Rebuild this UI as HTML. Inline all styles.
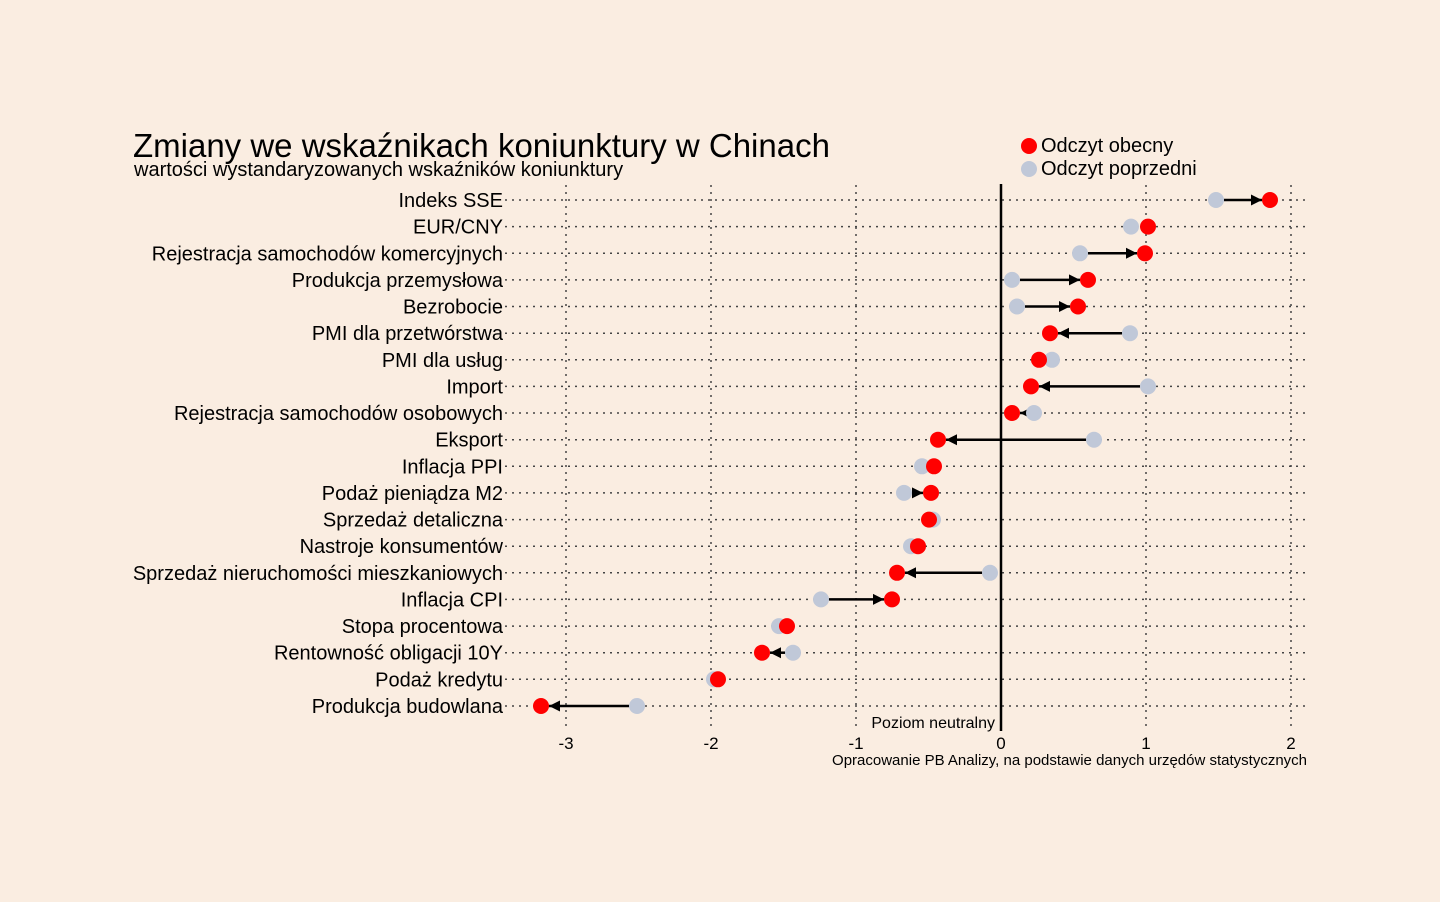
<!DOCTYPE html>
<html><head><meta charset="utf-8"><style>
body{margin:0;background:#faede1;}
svg{display:block;font-family:"Liberation Sans",sans-serif;}
</style></head><body>
<svg width="1440" height="902" viewBox="0 0 1440 902" xmlns="http://www.w3.org/2000/svg">
<defs><marker id="a" markerUnits="userSpaceOnUse" markerWidth="14" markerHeight="14" refX="11" refY="7" orient="auto"><path d="M0,1.5 L11,7 L0,12.5 Z" fill="#000"/></marker></defs>
<rect width="1440" height="902" fill="#faede1"/>
<text x="133" y="157" font-size="33">Zmiany we wskaźnikach koniunktury w Chinach</text>
<text x="134" y="176" font-size="20">wartości wystandaryzowanych wskaźników koniunktury</text>
<circle cx="1029" cy="146" r="8" fill="#ff0000"/><text x="1041" y="152" font-size="20">Odczyt obecny</text>
<circle cx="1029" cy="169" r="8" fill="#c0c8d8"/><text x="1041" y="175" font-size="20">Odczyt poprzedni</text>
<g stroke="#444" stroke-width="1.5" stroke-dasharray="2 5">
<line x1="566" y1="185" x2="566" y2="730"/><line x1="711" y1="185" x2="711" y2="730"/><line x1="856" y1="185" x2="856" y2="730"/><line x1="1146" y1="185" x2="1146" y2="730"/><line x1="1291" y1="185" x2="1291" y2="730"/>
<line x1="505" y1="200" x2="1305" y2="200"/><line x1="505" y1="226.6" x2="1305" y2="226.6"/><line x1="505" y1="253.3" x2="1305" y2="253.3"/><line x1="505" y1="279.9" x2="1305" y2="279.9"/><line x1="505" y1="306.5" x2="1305" y2="306.5"/><line x1="505" y1="333.2" x2="1305" y2="333.2"/><line x1="505" y1="359.8" x2="1305" y2="359.8"/><line x1="505" y1="386.4" x2="1305" y2="386.4"/><line x1="505" y1="413" x2="1305" y2="413"/><line x1="505" y1="439.7" x2="1305" y2="439.7"/><line x1="505" y1="466.3" x2="1305" y2="466.3"/><line x1="505" y1="492.9" x2="1305" y2="492.9"/><line x1="505" y1="519.6" x2="1305" y2="519.6"/><line x1="505" y1="546.2" x2="1305" y2="546.2"/><line x1="505" y1="572.8" x2="1305" y2="572.8"/><line x1="505" y1="599.4" x2="1305" y2="599.4"/><line x1="505" y1="626.1" x2="1305" y2="626.1"/><line x1="505" y1="652.7" x2="1305" y2="652.7"/><line x1="505" y1="679.3" x2="1305" y2="679.3"/><line x1="505" y1="706" x2="1305" y2="706"/>
</g>
<line x1="1001" y1="184" x2="1001" y2="731" stroke="#000" stroke-width="2.5"/>
<g font-size="20" text-anchor="end">
<text x="503" y="207">Indeks SSE</text><text x="503" y="233.6">EUR/CNY</text><text x="503" y="260.3">Rejestracja samochodów komercyjnych</text><text x="503" y="286.9">Produkcja przemysłowa</text><text x="503" y="313.5">Bezrobocie</text><text x="503" y="340.2">PMI dla przetwórstwa</text><text x="503" y="366.8">PMI dla usług</text><text x="503" y="393.4">Import</text><text x="503" y="420">Rejestracja samochodów osobowych</text><text x="503" y="446.7">Eksport</text><text x="503" y="473.3">Inflacja PPI</text><text x="503" y="499.9">Podaż pieniądza M2</text><text x="503" y="526.6">Sprzedaż detaliczna</text><text x="503" y="553.2">Nastroje konsumentów</text><text x="503" y="579.8">Sprzedaż nieruchomości mieszkaniowych</text><text x="503" y="606.4">Inflacja CPI</text><text x="503" y="633.1">Stopa procentowa</text><text x="503" y="659.7">Rentowność obligacji 10Y</text><text x="503" y="686.3">Podaż kredytu</text><text x="503" y="713">Produkcja budowlana</text>
</g>
<g stroke="#000" stroke-width="2.5" marker-end="url(#a)">
<line x1="1224" y1="200" x2="1262" y2="200"/>
<line x1="1088" y1="253.3" x2="1137" y2="253.3"/>
<line x1="1020" y1="279.9" x2="1080" y2="279.9"/>
<line x1="1025" y1="306.5" x2="1070" y2="306.5"/>
<line x1="1122" y1="333.2" x2="1058" y2="333.2"/>
<line x1="1140" y1="386.4" x2="1039" y2="386.4"/>
<line x1="1026" y1="413" x2="1020" y2="413"/>
<line x1="1086" y1="439.7" x2="946" y2="439.7"/>
<line x1="912" y1="492.9" x2="923" y2="492.9"/>
<line x1="982" y1="572.8" x2="905" y2="572.8"/>
<line x1="829" y1="599.4" x2="884" y2="599.4"/>
<line x1="785" y1="652.7" x2="770" y2="652.7"/>
<line x1="629" y1="706" x2="549" y2="706"/>
</g>
<g fill="#c0c8d8">
<circle cx="1216" cy="200" r="8"/><circle cx="1131" cy="226.6" r="8"/><circle cx="1080" cy="253.3" r="8"/><circle cx="1012" cy="279.9" r="8"/><circle cx="1017" cy="306.5" r="8"/><circle cx="1130" cy="333.2" r="8"/><circle cx="1052" cy="359.8" r="8"/><circle cx="1148" cy="386.4" r="8"/><circle cx="1034" cy="413" r="8"/><circle cx="1094" cy="439.7" r="8"/><circle cx="922" cy="466.3" r="8"/><circle cx="904" cy="492.9" r="8"/><circle cx="933" cy="519.6" r="8"/><circle cx="911" cy="546.2" r="8"/><circle cx="990" cy="572.8" r="8"/><circle cx="821" cy="599.4" r="8"/><circle cx="779" cy="626.1" r="8"/><circle cx="793" cy="652.7" r="8"/><circle cx="714" cy="679.3" r="8"/><circle cx="637" cy="706" r="8"/>
</g>
<g fill="#ff0000">
<circle cx="1270" cy="200" r="8"/><circle cx="1148" cy="226.6" r="8"/><circle cx="1145" cy="253.3" r="8"/><circle cx="1088" cy="279.9" r="8"/><circle cx="1078" cy="306.5" r="8"/><circle cx="1050" cy="333.2" r="8"/><circle cx="1039" cy="359.8" r="8"/><circle cx="1031" cy="386.4" r="8"/><circle cx="1012" cy="413" r="8"/><circle cx="938" cy="439.7" r="8"/><circle cx="934" cy="466.3" r="8"/><circle cx="931" cy="492.9" r="8"/><circle cx="929" cy="519.6" r="8"/><circle cx="918" cy="546.2" r="8"/><circle cx="897" cy="572.8" r="8"/><circle cx="892" cy="599.4" r="8"/><circle cx="787" cy="626.1" r="8"/><circle cx="762" cy="652.7" r="8"/><circle cx="718" cy="679.3" r="8"/><circle cx="541" cy="706" r="8"/>
</g>
<g font-size="17" text-anchor="middle">
<text x="566" y="749">-3</text><text x="711" y="749">-2</text><text x="856" y="749">-1</text><text x="1001" y="749">0</text><text x="1146" y="749">1</text><text x="1291" y="749">2</text>
</g>
<text x="995" y="728" font-size="16" text-anchor="end">Poziom neutralny</text>
<text x="1307" y="765" font-size="15" text-anchor="end">Opracowanie PB Analizy, na podstawie danych urzędów statystycznych</text>
</svg>
</body></html>
